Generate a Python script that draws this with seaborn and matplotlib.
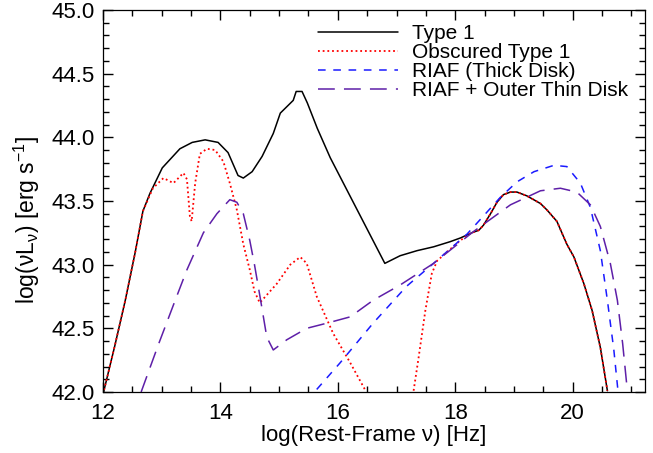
import numpy as np
import pandas as pd
import seaborn as sns
import matplotlib.pyplot as plt
from matplotlib.ticker import MultipleLocator

# SED curves: log(nu) [Hz] vs log(nu L_nu) [erg/s]
type1_x = [12.0, 12.2, 12.38, 12.55, 12.68, 12.80, 13.01, 13.31, 13.52, 13.74, 13.96, 14.13,
           14.30, 14.39, 14.54, 14.71, 14.90, 15.02, 15.13, 15.24, 15.29, 15.39, 15.48, 15.65,
           15.87, 16.80, 17.06, 17.35, 17.63, 17.91, 18.09, 18.28, 18.40, 18.48, 18.60, 18.71,
           18.82, 18.94, 19.05, 19.22, 19.45, 19.56, 19.73, 19.90, 20.02, 20.19, 20.33, 20.47, 20.59]
type1_y = [41.98, 42.36, 42.72, 43.10, 43.42, 43.56, 43.76, 43.91, 43.96, 43.98, 43.96, 43.88,
           43.70, 43.68, 43.73, 43.85, 44.03, 44.19, 44.24, 44.29, 44.36, 44.36, 44.27, 44.07,
           43.84, 43.01, 43.07, 43.11, 43.14, 43.18, 43.21, 43.25, 43.27, 43.31, 43.40, 43.49,
           43.55, 43.57, 43.57, 43.54, 43.48, 43.43, 43.34, 43.16, 43.06, 42.85, 42.64, 42.35, 42.01]

# obscured type 1: IR/optical part and X-ray part
obsc_x1 = [12.0, 12.2, 12.38, 12.55, 12.68, 12.85, 13.03, 13.20, 13.37, 13.43, 13.48, 13.51,
           13.57, 13.65, 13.77, 13.91, 14.05, 14.16, 14.28, 14.39, 14.50, 14.58, 14.67, 14.96,
           15.19, 15.36, 15.47, 15.64, 15.92, 16.21, 16.46]
obsc_y1 = [41.98, 42.36, 42.72, 43.10, 43.42, 43.60, 43.68, 43.64, 43.72, 43.67, 43.38, 43.34,
           43.64, 43.87, 43.91, 43.90, 43.81, 43.64, 43.43, 43.16, 42.96, 42.79, 42.70, 42.85,
           43.00, 43.06, 43.01, 42.75, 42.46, 42.23, 42.02]
obsc_x2 = [17.29, 17.375, 17.49, 17.60, 17.69, 17.86, 18.06, 18.20, 18.28, 18.40, 18.48, 18.60,
           18.71, 18.82, 18.94, 19.05, 19.22, 19.45, 19.56, 19.73, 19.90, 20.02, 20.19, 20.33,
           20.47, 20.59]
obsc_y2 = [42.01, 42.27, 42.64, 42.93, 43.03, 43.10, 43.18, 43.23, 43.25, 43.27, 43.31, 43.40,
           43.49, 43.55, 43.57, 43.57, 43.54, 43.48, 43.43, 43.34, 43.16, 43.06, 42.85, 42.64,
           42.35, 42.01]

riaf_x = [15.64, 16.04, 16.60, 17.17, 17.63, 18.20, 18.77, 19.05, 19.34, 19.68, 19.90, 20.13,
          20.30, 20.47, 20.59, 20.70, 20.77]
riaf_y = [42.02, 42.23, 42.54, 42.83, 43.01, 43.24, 43.53, 43.65, 43.73, 43.78, 43.77, 43.64,
          43.45, 43.11, 42.72, 42.33, 42.01]

thin_x = [12.65, 12.95, 13.23, 13.43, 13.71, 13.94, 14.16, 14.28, 14.39, 14.50, 14.58, 14.67,
          14.79, 14.90, 15.13, 15.47, 15.81, 16.21, 16.60, 17.06, 17.63, 18.31, 18.94, 19.45,
          19.79, 20.07, 20.30, 20.47, 20.64, 20.76, 20.85, 20.93]
thin_y = [42.00, 42.38, 42.72, 42.96, 43.25, 43.40, 43.51, 43.49, 43.40, 43.19, 43.00, 42.76,
          42.43, 42.33, 42.41, 42.50, 42.54, 42.59, 42.72, 42.84, 43.01, 43.26, 43.47, 43.58,
          43.60, 43.57, 43.47, 43.30, 43.01, 42.72, 42.38, 42.01]

sns.set_style('ticks')
plt.rcParams['font.family'] = ['Liberation Sans', 'DejaVu Sans']
plt.rcParams['mathtext.fontset'] = 'custom'
plt.rcParams['mathtext.rm'] = 'Liberation Sans'
plt.rcParams['text.color'] = 'black'

fig = plt.figure(figsize=(6.53, 4.53), dpi=100)
ax = fig.add_axes([0.1577, 0.1347, 0.83, 0.8433])

lw = 1.1
sns.lineplot(x=type1_x, y=type1_y, ax=ax, color='black', lw=lw, sort=False,
             estimator=None, label='Type 1')
sns.lineplot(x=obsc_x1, y=obsc_y1, ax=ax, color='red', lw=1.3, linestyle=(0, (1, 1.6)),
             sort=False, estimator=None, label='Obscured Type 1')
sns.lineplot(x=obsc_x2, y=obsc_y2, ax=ax, color='red', lw=1.3, linestyle=(0, (1, 1.6)),
             sort=False, estimator=None)
sns.lineplot(x=riaf_x, y=riaf_y, ax=ax, color='#1a1aff', lw=lw, linestyle=(0, (5, 5)),
             sort=False, estimator=None, label='RIAF (Thick Disk)')
sns.lineplot(x=thin_x, y=thin_y, ax=ax, color='#5e1fa8', lw=lw, linestyle=(0, (11, 6)),
             sort=False, estimator=None, label='RIAF + Outer Thin Disk')

ax.set_xlim(12, 21.23)
ax.set_ylim(42, 45)
ax.xaxis.set_major_locator(MultipleLocator(2))
ax.yaxis.set_major_locator(MultipleLocator(0.5))
ax.yaxis.set_major_formatter(plt.FormatStrFormatter('%.1f'))
ax.minorticks_on()
ax.xaxis.set_minor_locator(MultipleLocator(0.5))
ax.yaxis.set_minor_locator(MultipleLocator(0.1))
ax.tick_params(which='both', direction='in', top=True, right=True, bottom=True, left=True,
               width=1.0, color='black', labelcolor='black', labelsize=16)
ax.tick_params(which='major', length=7)
ax.tick_params(which='minor', length=4)
ax.tick_params(axis='x', pad=8)
ax.tick_params(axis='y', pad=6)
for s in ax.spines.values():
    s.set_linewidth(0.9)
    s.set_color('black')
    s.set_zorder(5)

ax.set_xlabel('log(Rest-Frame ν) [Hz]', fontsize=16, labelpad=1, color='black')
ax.set_ylabel(r'log(νL$_{\mathregular{ν}}$) [erg s$^{\mathregular{-1}}$]', fontsize=16.5,
              color='black')
ax.yaxis.set_label_coords(-0.112, 0.45)

ax.legend(loc='upper left', bbox_to_anchor=(0.397, 0.962), frameon=False, fontsize=15,
          handlelength=3.85, handletextpad=0.65, labelspacing=0.0, borderpad=0,
          borderaxespad=0, labelcolor='black')

fig.savefig('out.png', dpi=100)
